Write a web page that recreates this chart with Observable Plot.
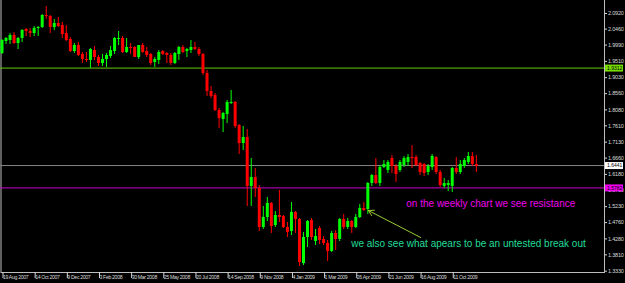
<!DOCTYPE html>
<html><head><meta charset="utf-8">
<script src="https://cdn.jsdelivr.net/npm/d3@7"></script>
<script src="https://cdn.jsdelivr.net/npm/@observablehq/plot@0.6"></script>
<style>
html,body{margin:0;padding:0;background:#000;}
#chart{width:625px;height:283px;overflow:hidden;}
g[aria-label="x-axis tick label"] text{letter-spacing:-0.35px;}
g[aria-label="y-axis tick label"] text{letter-spacing:-0.2px;}
</style></head><body><div id="chart"></div>
<script>
// Weekly GBP/USD style candles, first bar week of 19 Aug 2007
const startWeek = "2007-08-19";
const opens = [
1.9742,2.0095,2.0125,2.0272,2.0036,2.0184,2.0449,2.0390,2.0331,2.0478,
2.0508,2.0861,2.0832,2.0508,2.0625,2.0566,2.0331,2.0154,1.9801,1.9977,
1.9712,1.9565,1.9535,1.9830,1.9624,1.9447,1.9565,1.9653,1.9801,2.0154,
2.0184,1.9771,1.9918,1.9918,1.9624,1.9977,1.9801,1.9712,1.9476,1.9535,
1.9801,1.9742,1.9683,1.9447,1.9712,1.9918,1.9801,1.9830,1.9918,1.9859,
1.9712,1.9152,1.8622,1.8504,1.8062,1.7797,1.7945,1.8269,1.8298,1.7620,
1.7090,1.7267,1.5823,1.6089,1.5765,1.4616,1.4910,1.5323,1.4674,1.4969,
1.4940,1.4616,1.4498,1.5057,1.4851,1.3555,1.4321,1.4822,1.4203,1.4586,
1.4262,1.4144,1.3909,1.4439,1.4262,1.4851,1.4616,1.4792,1.4616,1.4910,
1.5175,1.5146,1.5912,1.6147,1.5912,1.6383,1.6295,1.6648,1.6413,1.6295,
1.6442,1.6530,1.6678,1.6678,1.6501,1.6472,1.6236,1.6383,1.6678,1.6236,
1.5823,1.5853,1.5823,1.6354,1.6236,1.6413,1.6530,1.6707,1.6472];
const highs = [
2.0154,2.0213,2.0331,2.0360,2.0213,2.0449,2.0478,2.0478,2.0537,2.0537,
2.0891,2.1126,2.0861,2.0743,2.0802,2.0655,2.0566,2.0213,2.0036,2.0066,
1.9771,1.9771,1.9889,1.9948,1.9683,1.9712,1.9742,1.9948,2.0213,2.0390,
2.0242,2.0184,2.0036,1.9948,1.9977,2.0036,1.9918,1.9742,1.9624,1.9830,
1.9830,1.9771,1.9742,1.9771,1.9948,1.9977,1.9889,2.0125,2.0066,1.9918,
1.9742,1.9241,1.8769,1.8563,1.8121,1.8003,1.8357,1.8652,1.8328,1.7650,
1.7591,1.7503,1.6648,1.6354,1.5853,1.5234,1.5499,1.5352,1.5087,1.5706,
1.4969,1.4763,1.5352,1.5087,1.4881,1.4468,1.4822,1.4881,1.4557,1.4645,
1.4350,1.4233,1.4498,1.4527,1.4881,1.4999,1.4881,1.4822,1.4999,1.5293,
1.5352,1.5941,1.6177,1.6648,1.6442,1.6589,1.6589,1.6737,1.6472,1.6589,
1.6707,1.6766,1.7031,1.6737,1.6530,1.6501,1.6472,1.6766,1.6707,1.6295,
1.6059,1.6000,1.6383,1.6678,1.6589,1.6648,1.6825,1.6825,1.6737];
const lows = [
1.9712,2.0007,2.0007,2.0007,1.9859,2.0066,2.0242,2.0213,2.0242,2.0242,
2.0478,2.0743,2.0331,2.0419,2.0508,2.0184,2.0095,1.9771,1.9742,1.9653,
1.9447,1.9476,1.9300,1.9535,1.9359,1.9359,1.9329,1.9594,1.9712,1.9977,
1.9742,1.9742,1.9712,1.9624,1.9565,1.9742,1.9624,1.9388,1.9329,1.9418,
1.9683,1.9447,1.9388,1.9418,1.9535,1.9742,1.9624,1.9742,1.9830,1.9653,
1.9093,1.8475,1.8416,1.8033,1.7532,1.7414,1.7679,1.8239,1.7532,1.6766,
1.6884,1.5234,1.5234,1.5499,1.4498,1.4557,1.4792,1.4439,1.4616,1.4763,
1.4586,1.4321,1.4380,1.4439,1.3467,1.3496,1.4026,1.4233,1.4085,1.4115,
1.4085,1.3614,1.3879,1.3938,1.4203,1.4557,1.4557,1.4439,1.4586,1.4881,
1.5087,1.4999,1.5823,1.5882,1.5823,1.6354,1.6206,1.6206,1.5941,1.6236,
1.6383,1.6413,1.6354,1.6413,1.6147,1.6118,1.6147,1.6295,1.6177,1.5794,
1.5765,1.5676,1.5647,1.6177,1.6177,1.6354,1.6472,1.6413,1.6236];
const closes = [
2.0125,2.0184,2.0272,2.0036,2.0184,2.0419,2.0390,2.0331,2.0478,2.0508,
2.0861,2.0832,2.0508,2.0625,2.0537,2.0301,2.0125,1.9801,1.9977,1.9683,
1.9565,1.9535,1.9859,1.9624,1.9447,1.9565,1.9683,1.9830,2.0184,2.0184,
1.9771,1.9918,1.9889,1.9624,1.9977,1.9771,1.9683,1.9447,1.9565,1.9771,
1.9712,1.9683,1.9447,1.9742,1.9918,1.9771,1.9859,1.9918,1.9859,1.9712,
1.9152,1.8622,1.8475,1.8062,1.7827,1.7974,1.8298,1.8298,1.7591,1.7090,
1.7267,1.5823,1.6089,1.5765,1.4616,1.4910,1.5323,1.4645,1.4969,1.4910,
1.4616,1.4468,1.5057,1.4851,1.3584,1.4321,1.4792,1.4321,1.4350,1.4233,
1.4144,1.3909,1.4439,1.4262,1.4851,1.4616,1.4792,1.4616,1.4910,1.5175,
1.5116,1.5912,1.6147,1.5912,1.6383,1.6472,1.6530,1.6413,1.6177,1.6530,
1.6648,1.6678,1.6648,1.6442,1.6236,1.6206,1.6413,1.6707,1.6236,1.5853,
1.5912,1.5912,1.6354,1.6236,1.6472,1.6589,1.6707,1.6472,1.6413];

const dateTicks = ["2007-08-19","2007-10-14","2007-12-09","2008-02-03","2008-03-30","2008-05-25",
  "2008-07-20","2008-09-14","2008-11-09","2009-01-04","2009-03-01","2009-04-26","2009-06-21",
  "2009-08-16","2009-10-11"];
const priceTicks = [2.0920,2.0460,1.9990,1.9510,1.9030,1.8560,1.8080,1.7610,1.7130,1.6660,
  1.6180,1.5710,1.5230,1.4760,1.4280,1.3810,1.3330];

const levelValues = [1.9312, 1.6441, 1.5782];
const levelLine = ["#66cc00", "#858585", "#cc00cc"];
const levelBox = ["#77dd00", "#ffffff", "#ee00ee"];

const noteTexts = ["on the weekly chart we see resistance", "we also see what apears to be an untested break out"];
const noteDates = ["2009-07-23", "2009-04-18"];
const notePrices = [1.5323, 1.4144];
const noteColors = ["#ee00ee", "#22dd99"];

const pointerFrom = {date: "2009-08-17", price: 1.4321};
const pointerTo = {date: "2009-05-18", price: 1.5116};

const UP = "#00ff00", DOWN = "#ff0000";
const candles = opens.map((o, i) => ({
  date: d3.utcWeek.offset(new Date(startWeek), i),
  open: o, high: highs[i], low: lows[i], close: closes[i],
  color: closes[i] >= o ? UP : DOWN
}));
const levels = levelValues.map((v, i) => ({value: v, line: levelLine[i], box: levelBox[i]}));
const notes = noteTexts.map((t, i) => ({text: t, date: new Date(noteDates[i]), price: notePrices[i], color: noteColors[i]}));
const pointer = [{x1: new Date(pointerFrom.date), y1: pointerFrom.price, x2: new Date(pointerTo.date), y2: pointerTo.price}];

const font = "'Liberation Sans',Arial,sans-serif";
const chart = Plot.plot({
  width: 625, height: 283,
  marginTop: 0, marginLeft: 0, marginRight: 21, marginBottom: 11,
  style: {background: "#000", color: "#d8d8d8", fontFamily: font, overflow: "visible"},
  x: {type: "utc", domain: [candles[0].date, candles[candles.length - 1].date], range: [1.5, 475.86], axis: null},
  y: {domain: [1.3290, 2.1303], axis: null},
  color: {type: "identity"},
  marks: [
    Plot.frame({stroke: "#bdbdbd", insetTop: -3, insetLeft: 0.5}),
    Plot.ruleY(levels, {y: "value", stroke: "line", strokeWidth: 1}),
    Plot.ruleX(candles, {x: "date", y1: "low", y2: "high", stroke: "color", strokeWidth: 1}),
    Plot.ruleX(candles, {x: "date", y1: "open", y2: "close", stroke: "color", strokeWidth: 3}),
    Plot.axisY(priceTicks, {anchor: "right", tickFormat: d => d.toFixed(4), tickSize: 2, tickPadding: 1.5, fontSize: 5.5}),
    Plot.ruleY(levels, {y: "value", stroke: "box", strokeWidth: 7, insetLeft: 605, insetRight: -19}),
    Plot.text(levels, {y: "value", text: d => d.value.toFixed(4), frameAnchor: "right", textAnchor: "start",
      dx: 2.5, fill: "#000", fontSize: 5}),
    Plot.axisX(dateTicks.map(d => new Date(d)), {anchor: "bottom", tickSize: 6, tickPadding: -1, lineAnchor: "middle",
      textAnchor: "start", dx: 1, tickFormat: d3.utcFormat("%-d %b %Y"), fontSize: 5.2}),
    Plot.text(notes, {x: "date", y: "price", text: "text", fill: "color", textAnchor: "start",
      fontSize: 10, fontFamily: "'Liberation Sans',Arial,sans-serif"}),
    Plot.arrow(pointer, {x1: "x1", y1: "y1", x2: "x2", y2: "y2", stroke: "#9acd32", strokeWidth: 1, headLength: 9})
  ]
});
document.getElementById("chart").append(chart);
</script></body></html>
